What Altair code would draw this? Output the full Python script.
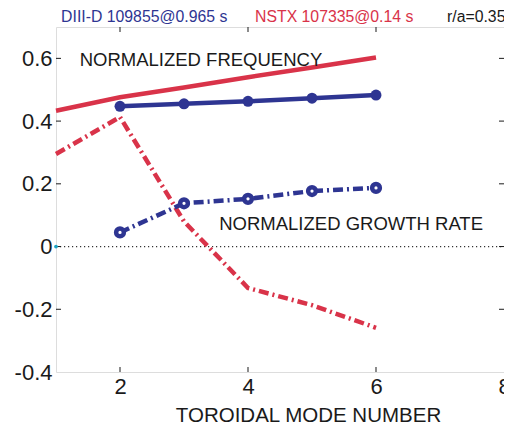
import altair as alt
import pandas as pd

# ---- data ----
modes_nstx = [1, 2, 3, 4, 5, 6]
freq_nstx = [0.433, 0.476, 0.507, 0.540, 0.571, 0.603]
growth_nstx = [0.295, 0.413, 0.080, -0.132, -0.187, -0.259]

modes_diiid = [2, 3, 4, 5, 6]
freq_diiid = [0.447, 0.455, 0.463, 0.473, 0.483]
growth_diiid = [0.045, 0.138, 0.152, 0.177, 0.187]

x_ticks = [2, 4, 6, 8]
y_ticks = [-0.4, -0.2, 0, 0.2, 0.4, 0.6]
x_inner_ticks = [2, 4, 6]
y_inner_ticks = [-0.2, 0, 0.2, 0.4, 0.6]

header_x = [1.08, 4.11, 7.11]
header_text = ["DIII-D 109855@0.965 s", "NSTX 107335@0.14 s", "r/a=0.35"]

label_x = [1.37, 3.55]
label_y = [0.594, 0.073]
label_text = ["NORMALIZED FREQUENCY", "NORMALIZED GROWTH RATE"]

BLUE = "#2e3592"
RED = "#d93349"
FONT = "Liberation Sans"

xs = alt.Scale(domain=[1, 8], nice=False, zero=False)
ys = alt.Scale(domain=[-0.4, 0.7], nice=False, zero=False)

x_axis = alt.Axis(values=x_ticks, title="TOROIDAL MODE NUMBER", grid=False, ticks=False,
                  domain=False, labelFontSize=22, labelFont=FONT, labelColor="#1a1a1a",
                  labelPadding=4, titleFont=FONT, titleFontSize=20.5, titleFontWeight="normal",
                  titleColor="#1a1a1a", titlePadding=8, titleX=252, titleAnchor="start",
                  titleAlign="center", labelFlush=False)
y_axis = alt.Axis(values=y_ticks, title=None, grid=False, ticks=False, domain=False,
                  labelFontSize=22, labelFont=FONT, labelColor="#1a1a1a", labelPadding=4,
                  labelExpr="toString(datum.value)")


def X(field):
    return alt.X(field, type="quantitative", scale=xs, axis=x_axis)


def Y(field):
    return alt.Y(field, type="quantitative", scale=ys, axis=y_axis)


nstx = pd.DataFrame({"n": modes_nstx, "freq": freq_nstx, "growth": growth_nstx})
diiid = pd.DataFrame({"n": modes_diiid, "freq": freq_diiid, "growth": growth_diiid})

zero_df = pd.DataFrame({"x1": [1], "x2": [8], "y": [0]})
zero_line = alt.Chart(zero_df).mark_rule(color="#333333", strokeWidth=1.2, strokeDash=[1.2, 2.8]).encode(
    x=X("x1"), x2="x2", y=Y("y"))
cyan = alt.Chart(pd.DataFrame({"x": [1], "y": [0]})).mark_point(
    filled=True, color="#1ba3c4", size=14, opacity=1).encode(x=X("x"), y=Y("y"))

red_freq = alt.Chart(nstx).mark_line(color=RED, strokeWidth=4.5).encode(x=X("n"), y=Y("freq"))
red_growth = alt.Chart(nstx).mark_line(color=RED, strokeWidth=4.5, strokeDash=[10, 4, 2, 4]).encode(
    x=X("n"), y=Y("growth"))

blue_freq = alt.Chart(diiid).mark_line(color=BLUE, strokeWidth=4.5,
                                       point=alt.OverlayMarkDef(filled=True, color=BLUE, size=120, opacity=1)
                                       ).encode(x=X("n"), y=Y("freq"))
blue_growth_line = alt.Chart(diiid).mark_line(color=BLUE, strokeWidth=4.5, strokeDash=[10, 4, 2, 4]).encode(
    x=X("n"), y=Y("growth"))
blue_growth_pts = alt.Chart(diiid).mark_point(filled=False, fill="white", fillOpacity=1, color=BLUE,
                                              strokeWidth=4.5, size=60, opacity=1).encode(
    x=X("n"), y=Y("growth"))

labels = alt.Chart(pd.DataFrame({"x": label_x, "y": label_y, "t": label_text})).mark_text(
    align="left", baseline="middle", font=FONT, fontSize=18.5, color="#1a1a1a").encode(
    x=X("x"), y=Y("y"), text="t:N")

header_df = pd.DataFrame({"x": header_x, "t": header_text, "c": [BLUE, RED, "#1a1a1a"]})
header = alt.Chart(header_df).mark_text(align="left", baseline="alphabetic", font=FONT, fontSize=15.8).encode(
    x=X("x"), y=alt.value(-5), text="t:N", color=alt.Color("c:N", scale=None))

# inward ticks on all four sides
tb = pd.DataFrame({"x": x_inner_ticks * 2, "y": [-0.4] * 3 + [0.7] * 3})
lr = pd.DataFrame({"x": [1] * 5 + [8] * 5, "y": y_inner_ticks * 2})
ticks_v = alt.Chart(tb).mark_tick(orient="vertical", size=10, thickness=1, color="#1a1a1a", clip=True,
                                  opacity=1).encode(x=X("x"), y=Y("y"))
ticks_h = alt.Chart(lr).mark_tick(orient="horizontal", size=10, thickness=1, color="#1a1a1a", clip=True,
                                  opacity=1).encode(x=X("x"), y=Y("y"))

chart = alt.layer(
    zero_line, ticks_v, ticks_h, red_freq, red_growth, blue_freq, blue_growth_line, blue_growth_pts,
    labels, header, cyan
).properties(
    width=448, height=345,
    autosize=alt.AutoSizeParams(type="none"),
    padding={"left": 48, "top": 19, "right": 0, "bottom": 58},
).configure_view(stroke="#1a1a1a", strokeWidth=1.2).configure(background="white")

chart.save("out.html", embed_options={"renderer": "svg", "actions": False})
